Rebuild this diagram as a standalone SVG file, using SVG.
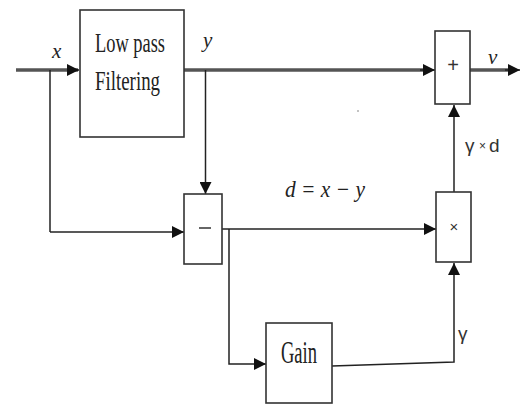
<svg xmlns="http://www.w3.org/2000/svg" width="524" height="404" viewBox="0 0 524 404">
<style>
.box{fill:#fff;stroke:#333;stroke-width:1.6}
.w{fill:none;stroke:#222;stroke-width:1.5}
.thick{fill:none;stroke:#555;stroke-width:3.5}
.t{font-family:"Liberation Serif",serif;font-size:27px;fill:#222}
.it{font-family:"Liberation Serif",serif;font-style:italic;font-size:21px;fill:#222}
.s{font-family:"Liberation Sans",sans-serif;fill:#333}
</style>
<defs>
<marker id="ahb" viewBox="0 0 10 10" refX="10" refY="5" markerWidth="12" markerHeight="12" markerUnits="userSpaceOnUse" orient="auto">
<path d="M0,0 L10,5 L0,10 z" fill="#111"/>
</marker>
</defs>
<g id="connectors">
<line class="thick" x1="16" y1="70" x2="78" y2="70"/>
<line class="w" x1="70" y1="70" x2="79" y2="70" marker-end="url(#ahb)"/>
<line class="thick" x1="184" y1="70" x2="425" y2="70"/>
<line class="w" x1="420" y1="70" x2="435" y2="70" marker-end="url(#ahb)"/>
<line class="w" x1="50" y1="70" x2="50" y2="232"/>
<line class="w" x1="50" y1="232" x2="184" y2="232" marker-end="url(#ahb)"/>
<line class="w" x1="205.5" y1="70" x2="205.5" y2="194" marker-end="url(#ahb)"/>
<line class="w" x1="218" y1="229" x2="436" y2="229" marker-end="url(#ahb)"/>
<polyline class="w" points="229,229 229,364 266,364" marker-end="url(#ahb)"/>
<polyline class="w" points="332,366 454,362 454,263" marker-end="url(#ahb)"/>
<line class="w" x1="454" y1="192" x2="454" y2="105" marker-end="url(#ahb)"/>
<line class="thick" x1="470" y1="70" x2="512" y2="70"/>
<line class="w" x1="505" y1="70" x2="520" y2="70" marker-end="url(#ahb)"/>
</g>
<g id="lpf">
<rect class="box" x="80" y="10" width="104" height="127"/>
<text class="t" x="95" y="52" textLength="70" lengthAdjust="spacingAndGlyphs">Low pass</text>
<text class="t" x="95" y="90" textLength="65" lengthAdjust="spacingAndGlyphs">Filtering</text>
</g>
<g id="minus">
<rect class="box" x="184" y="194" width="38" height="70"/>
<line x1="199" y1="228" x2="211" y2="228" stroke="#666" stroke-width="2"/>
</g>
<g id="mult">
<rect class="box" x="436" y="192" width="35" height="70"/>
<text class="s" x="454" y="232" text-anchor="middle" style="font-size:15px">×</text>
</g>
<g id="sum">
<rect class="box" x="435" y="31" width="35" height="73"/>
<text class="s" x="453" y="72" text-anchor="middle" style="font-size:20px">+</text>
</g>
<g id="gain">
<rect class="box" x="266" y="323" width="66" height="80"/>
<text class="t" x="281" y="363" textLength="36" lengthAdjust="spacingAndGlyphs" style="font-size:32px">Gain</text>
</g>
<g id="labels">
<text class="it" x="52" y="58">x</text>
<text class="it" x="203" y="47">y</text>
<text class="it" x="488" y="64">v</text>
<text class="it" x="285" y="197" textLength="80" lengthAdjust="spacingAndGlyphs" style="font-size:23px">d = x − y</text>
<text class="s" x="465" y="152" style="font-size:19px">γ</text>
<text class="s" x="479" y="150" style="font-size:12px">×</text>
<text class="s" x="489" y="152" style="font-size:19px">d</text>
<text class="s" x="458" y="340" style="font-size:19px">γ</text>
<circle cx="358" cy="111" r="0.8" fill="#777"/>
</g>
</svg>
